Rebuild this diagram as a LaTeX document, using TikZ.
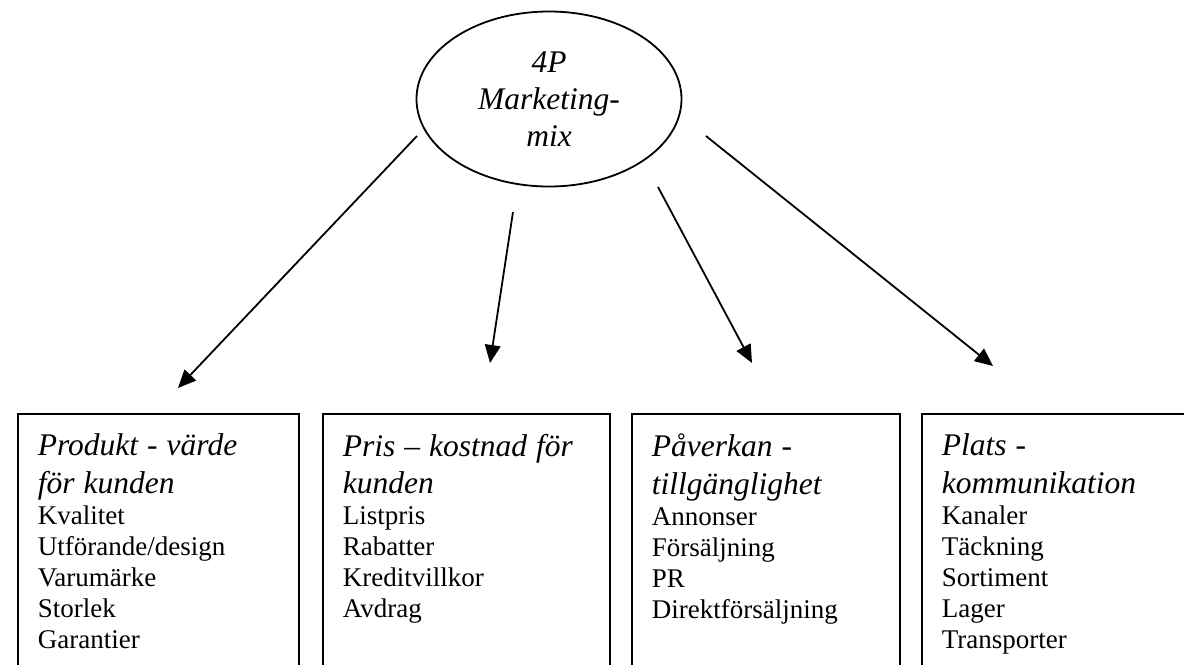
\documentclass[tikz,border=0pt]{standalone}
\usepackage{fontspec}
\setmainfont{Liberation Serif}
\usetikzlibrary{shapes.geometric,arrows.meta}

\newlength{\px}
\setlength{\px}{0.015625cm}
\newcommand{\ptitlefont}{\fontsize{14}{16.6}\selectfont\itshape}
\tikzset{
  pbox/.style={anchor=north west,align=left,inner xsep=19\px,
    inner ysep=19\px,font=\fontsize{12}{13.8}\selectfont},
}

\begin{document}
\begin{tikzpicture}[x=0.015625cm,y=-0.015625cm,thick,>={Triangle[length=8pt,width=7pt]}]
  \useasboundingbox (0,0) rectangle (1184,664);
  \clip (0,0) rectangle (1184,664);
  % mitten
  \node[ellipse,draw,thick,minimum width=265\px,minimum height=175\px,
    align=center,font=\ptitlefont] (mix) at (549,99)
    {4P\\Marketing-\\mix};
  % rutorna
  \node[pbox,text width=241\px] (produkt) at (18,414)
    {{\ptitlefont Produkt - värde\\för kunden\par}Kvalitet\\Utförande/design\\Varumärke\\Storlek\\Garantier};
  \node[pbox,text width=247\px] (pris) at (323,414)
    {{\ptitlefont Pris – kostnad för\\kunden\par}Listpris\\Rabatter\\Kreditvillkor\\Avdrag};
  \node[pbox,text width=228\px] (paverkan) at (632,414)
    {{\ptitlefont Påverkan -\\tillgänglighet\par}Annonser\\Försäljning\\PR\\Direktförsäljning};
  \node[pbox,text width=230\px] (plats) at (922,414)
    {{\ptitlefont Plats -\\kommunikation\par}Kanaler\\Täckning\\Sortiment\\Lager\\Transporter};
  \foreach \n in {produkt,pris,paverkan,plats}
    \draw (\n.north west) rectangle (\n.east |- 0,672);
  % pilarna
  \coordinate (s1) at (417,136);
  \coordinate (s2) at (513,212);
  \coordinate (s3) at (658,187);
  \coordinate (s4) at (706,136);
  \coordinate (t1) at (178,388);
  \coordinate (t2) at (490,363);
  \coordinate (t3) at (752,363);
  \coordinate (t4) at (993,366);
  \foreach \i in {1,...,4}
    \draw[->] (s\i) -- (t\i);
\end{tikzpicture}
\end{document}
